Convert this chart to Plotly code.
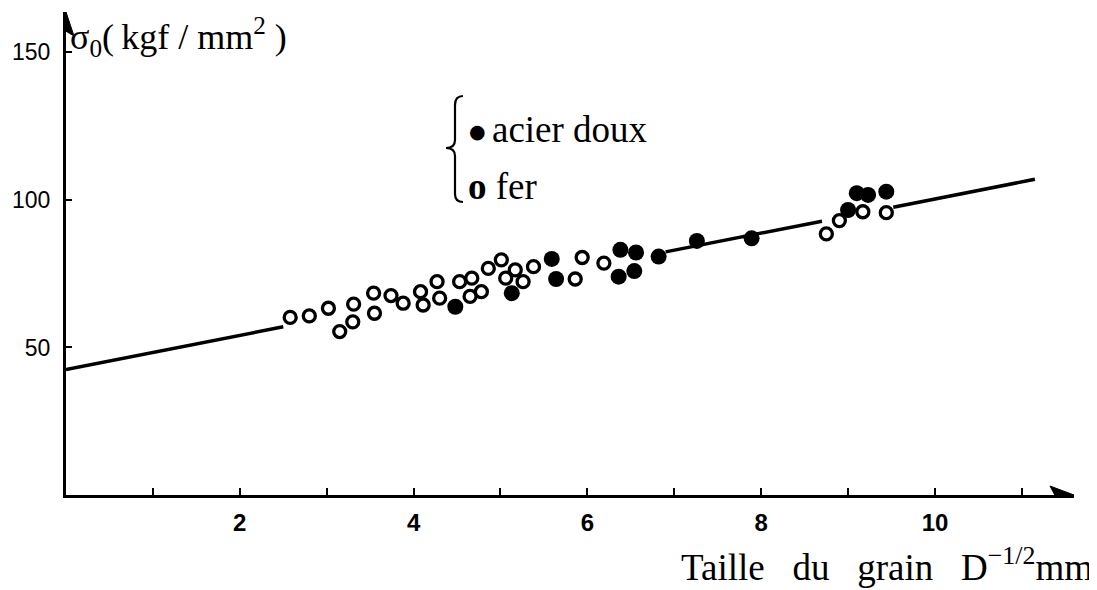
import plotly.graph_objects as go

# ---- data ----
fer_x = [2.58, 2.80, 3.02, 3.15, 3.30, 3.31, 3.54, 3.55, 3.74, 3.88, 4.08, 4.11,
         4.27, 4.30, 4.53, 4.67, 4.65, 4.78, 4.86, 5.01, 5.06, 5.17, 5.26, 5.38,
         5.86, 5.94, 6.19, 8.75, 8.90, 9.17, 9.44]
fer_y = [60.2, 60.7, 63.3, 55.4, 58.7, 64.7, 68.4, 61.6, 67.6, 65.0, 68.9, 64.4,
         72.3, 66.7, 72.3, 73.5, 67.3, 68.9, 76.8, 79.7, 73.5, 76.3, 72.3, 77.4,
         73.2, 80.5, 78.6, 88.5, 93.0, 96.0, 95.7]

acier_x = [4.48, 5.13, 5.59, 5.64, 6.38, 6.36, 6.56, 6.54, 6.82, 7.26, 7.89,
           9.00, 9.10, 9.23, 9.44]
acier_y = [63.8, 68.4, 80.0, 73.2, 83.1, 74.0, 82.2, 75.9, 80.8, 86.1, 87.0,
           96.6, 102.3, 101.7, 102.8]

# straight line, drawn in visible pieces
line_x = [0, 2.5, None, 6.9, 8.7, None, 9.52, 11.15]
line_y = [42.5, 57.0, None, 82.4, 92.8, None, 97.5, 107.0]

x_ticks = [1, 2, 3, 4, 5, 6, 7, 8, 9, 10, 11]
x_ticktext = ["", "2", "", "4", "", "6", "", "8", "", "10", ""]
y_ticks = [50, 100, 150]
y_ticktext = ["50", "100", "150"]

# ---- layout geometry ----
OFF = 8                      # page body margin of the browser
W, H = 1097 - OFF, 590 - OFF
PL, PR, PT, PB = 66, 1074, 12, 495   # plot area in screen pixels
XMAX = 11.6
YMAX = 163.7
XU = (PR - PL) / XMAX
YU = (PB - PT) / YMAX

SERIF = "Liberation Serif, Times New Roman, serif"

fig = go.Figure()
fig.add_trace(go.Scatter(x=line_x, y=line_y, mode="lines",
                         line=dict(color="black", width=3.5),
                         connectgaps=False, hoverinfo="skip"))
fig.add_trace(go.Scatter(x=fer_x, y=fer_y, mode="markers",
                         marker=dict(symbol="circle", size=12, color="white",
                                     line=dict(color="black", width=3.3))))
fig.add_trace(go.Scatter(x=acier_x, y=acier_y, mode="markers",
                         marker=dict(symbol="circle", size=16, color="black",
                                     line=dict(color="black", width=0))))

def px2paper(px, py):
    return (px - PL) / (PR - PL), (PB - py) / (PB - PT)

def text_ann(px, py, text, size, family=SERIF, xanchor="left"):
    x, y = px2paper(px, py)
    return dict(x=x, y=y, xref="paper", yref="paper", xanchor=xanchor,
                yanchor="middle", showarrow=False, text=text,
                font=dict(family=family, size=size, color="black"))

ann = [
    text_ann(68, 37, "σ<sub>0</sub>(\u2009kgf / mm<sup>2</sup>&nbsp;)", 36),
    text_ann(1095, 564,
             "Taille&nbsp;&nbsp; du&nbsp;&nbsp; grain&nbsp;&nbsp; D<sup>−1/2</sup>mm", 37,
             xanchor="right"),
    text_ann(467, 131, "●", 19, family="DejaVu Sans"),
    text_ann(490, 129, "acier doux", 37),
    text_ann(466, 186, "<b>o</b>&nbsp;fer", 37),
]

shapes = []
# brace
def d(px, py):
    return (px - PL) / XU, (PB - py) / YU
p = [d(463, 96), d(455, 96), d(455, 105), d(455, 140), d(455, 148), d(446, 148),
     d(455, 148), d(455, 156), d(455, 194), d(455, 202), d(463, 202)]
path = ("M {0[0]},{0[1]} Q {1[0]},{1[1]} {2[0]},{2[1]} L {3[0]},{3[1]} "
        "Q {4[0]},{4[1]} {5[0]},{5[1]} Q {6[0]},{6[1]} {7[0]},{7[1]} "
        "L {8[0]},{8[1]} Q {9[0]},{9[1]} {10[0]},{10[1]}").format(*p)
shapes.append(dict(type="path", xref="x", yref="y", path=path,
                   line=dict(color="black", width=2.2)))
# axis arrowheads
hx, hy = 24 / XU, 9 / YU
shapes.append(dict(type="path", xref="x", yref="y",
                   path=f"M {XMAX-hx},{-hy} L {XMAX},0 L {XMAX-hx},{hy} L {XMAX-hx*0.8},0 Z",
                   fillcolor="black", line=dict(color="black", width=1)))
vx, vy = 8 / XU, 24 / YU
shapes.append(dict(type="path", xref="x", yref="y",
                   path=f"M {-vx},{YMAX-vy} L 0,{YMAX} L {vx},{YMAX-vy} L 0,{YMAX-vy*0.8} Z",
                   fillcolor="black", line=dict(color="black", width=1)))

fig.update_layout(
    width=W, height=H, autosize=False,
    margin=dict(l=PL - OFF, r=W - (PR - OFF), t=PT - OFF, b=H - (PB - OFF)),
    paper_bgcolor="white", plot_bgcolor="white",
    showlegend=False,
    annotations=ann, shapes=shapes,
    xaxis=dict(range=[0, XMAX], showgrid=False, zeroline=False,
               showline=True, linecolor="black", linewidth=3,
               tickmode="array", tickvals=x_ticks, ticktext=x_ticktext,
               ticks="inside", ticklen=7, tickwidth=2, tickcolor="black",
               ticklabelstandoff=4,
               tickfont=dict(family="Liberation Sans Narrow, Liberation Sans, Arial",
                             size=24, color="black", weight="bold")),
    yaxis=dict(range=[0, YMAX], showgrid=False, zeroline=False,
               showline=True, linecolor="black", linewidth=3,
               tickmode="array", tickvals=y_ticks, ticktext=y_ticktext,
               ticks="inside", ticklen=6, tickwidth=2, tickcolor="black",
               ticklabelstandoff=8,
               tickfont=dict(family="Liberation Sans, Arial", size=23,
                             color="black")),
)

fig.write_html("out.html")
